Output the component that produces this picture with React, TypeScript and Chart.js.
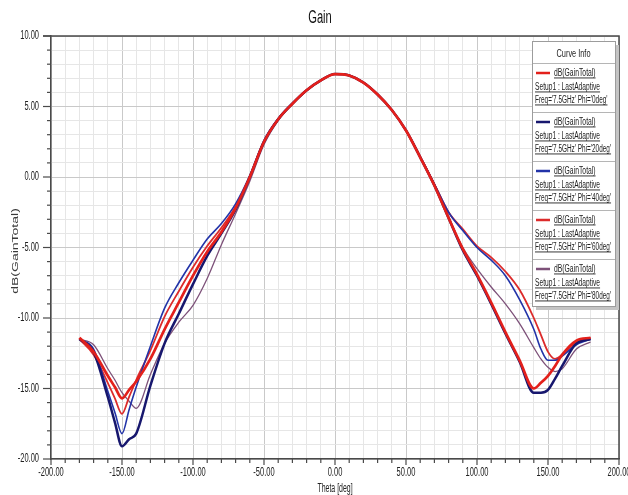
import React, { useEffect, useRef } from "react";
import { Chart, registerables } from "chart.js";

Chart.register(...registerables);

// ---------- data ----------
const THETA = [
  -180, -170, -160, -155, -150, -145, -140, -130, -120, -110, -100, -90, -80, -70,
  -60, -50, -40, -30, -20, -10, 0, 10, 20, 30, 40, 50, 60, 70,
  80, 90, 100, 110, 120, 130, 140, 145, 150, 155, 160, 170, 180,
];

const GAIN_PHI_0 = [
  -11.4, -12.4, -14.1, -14.9, -15.7, -15.1, -14.5, -12.9, -10.8, -8.9, -7.0, -5.3, -3.9, -2.2,
  0.0, 2.5, 4.1, 5.2, 6.15, 6.85, 7.3, 7.2, 6.7, 5.85, 4.75, 3.3, 1.4, -0.6,
  -2.9, -5.1, -6.9, -8.9, -11.0, -13.0, -15.0, -14.6, -14.1, -13.4, -12.6, -11.6, -11.4,
];

const GAIN_PHI_20 = [
  -11.5, -12.4, -15.6, -17.4, -19.1, -18.6, -18.2, -14.8, -11.8, -9.7, -7.6, -5.6, -4.0, -2.3,
  0.0, 2.5, 4.1, 5.2, 6.15, 6.85, 7.3, 7.2, 6.7, 5.85, 4.75, 3.3, 1.4, -0.6,
  -2.9, -5.2, -7.0, -9.0, -11.1, -13.1, -15.3, -15.3, -15.1, -14.3, -13.4, -11.8, -11.5,
];

const GAIN_PHI_40 = [
  -11.5, -12.2, -15.2, -16.7, -18.2, -16.5, -14.9, -12.0, -9.3, -7.5, -5.9, -4.4, -3.3, -1.9,
  0.1, 2.6, 4.15, 5.25, 6.15, 6.85, 7.3, 7.2, 6.7, 5.85, 4.75, 3.3, 1.45, -0.5,
  -2.5, -3.8, -5.0, -5.9, -7.0, -8.7, -10.8, -12.2, -13.0, -13.0, -12.7, -11.9, -11.5,
];

const GAIN_PHI_60 = [
  -11.5, -12.6, -14.6, -15.7, -16.8, -15.6, -14.4, -12.3, -9.9, -8.1, -6.4, -4.9, -3.6, -2.1,
  0.0, 2.5, 4.1, 5.2, 6.15, 6.85, 7.3, 7.2, 6.7, 5.85, 4.75, 3.3, 1.45, -0.5,
  -2.5, -3.7, -4.9, -5.7, -6.7, -8.0, -10.0, -11.2, -12.4, -12.9, -12.6, -11.7, -11.4,
];

const GAIN_PHI_80 = [
  -11.5, -11.9, -13.6, -14.4, -15.3, -15.9, -16.4, -14.0, -11.8, -10.3, -9.1, -7.2, -4.8, -2.6,
  -0.3, 2.3, 4.0, 5.15, 6.1, 6.85, 7.3, 7.2, 6.7, 5.85, 4.75, 3.3, 1.4, -0.6,
  -2.9, -5.0, -6.5, -7.8, -9.0, -10.4, -12.1, -12.9, -13.5, -13.8, -13.6, -12.2, -11.7,
];

const PHI_LABELS = ["0deg", "20deg", "40deg", "60deg", "80deg"];
const SERIES_VALUES = [GAIN_PHI_0, GAIN_PHI_20, GAIN_PHI_40, GAIN_PHI_60, GAIN_PHI_80];

const CHART_TITLE = "Gain";
const X_TITLE = "Theta [deg]";
const Y_TITLE = "dB(GainTotal)";
const LEGEND_TITLE = "Curve Info";
const TRACE_NAME = "dB(GainTotal)";
const SETUP_NAME = "Setup1 : LastAdaptive";
const FREQ_TEXT = "7.5GHz";

const X_MIN = -200;
const X_MAX = 200;
const X_STEP = 10;
const X_MAJOR = 50;
const Y_MIN = -20;
const Y_MAX = 10;
const Y_STEP = 1;
const Y_MAJOR = 5;

// ---------- styles ----------
const STYLES = [
  { color: "#e3201b", width: 2.7 },
  { color: "#17176e", width: 2.5 },
  { color: "#2233a8", width: 1.6 },
  { color: "#dc2b2b", width: 1.8 },
  { color: "#7d5179", width: 1.3 },
];

const FONT = '"Liberation Sans", Arial, "DejaVu Sans", sans-serif';
const GRID_MAJOR = "#c9c9c9";
const GRID_MINOR = "#e6e6e6";
const FRAME = "#4a4a4a";
const TEXT = "#222222";

function drawText(
  ctx: CanvasRenderingContext2D,
  text: string,
  x: number,
  y: number,
  size: number,
  sx: number,
  align: CanvasTextAlign,
  color: string,
  underline = false
) {
  ctx.save();
  ctx.translate(x, y);
  ctx.scale(sx, 1);
  ctx.font = `${size}px ${FONT}`;
  ctx.textAlign = align;
  ctx.textBaseline = "middle";
  ctx.fillStyle = color;
  ctx.fillText(text, 0, 0);
  if (underline) {
    const w = ctx.measureText(text).width;
    const x0 = align === "left" ? 0 : align === "right" ? -w : -w / 2;
    ctx.fillRect(x0, size * 0.45, w, 0.9);
  }
  ctx.restore();
}

const decorPlugin = {
  id: "hfssDecor",
  afterDraw(chart: any) {
    const ctx: CanvasRenderingContext2D = chart.ctx;
    const area = chart.chartArea;
    const xs = chart.scales.x;
    const ys = chart.scales.y;

    // frame (top & right)
    ctx.save();
    ctx.strokeStyle = FRAME;
    ctx.lineWidth = 1.5;
    ctx.beginPath();
    ctx.moveTo(area.left - 8, area.top);
    ctx.lineTo(area.right, area.top);
    ctx.lineTo(area.right, area.bottom);
    ctx.stroke();

    // tick marks
    ctx.lineWidth = 1.2;
    xs.ticks.forEach((t: any) => {
      const px = xs.getPixelForValue(t.value);
      const major = Math.abs(t.value % X_MAJOR) < 1e-6;
      ctx.beginPath();
      ctx.moveTo(px, area.bottom);
      ctx.lineTo(px, area.bottom + (major ? 6 : 4));
      ctx.stroke();
    });
    ys.ticks.forEach((t: any) => {
      const py = ys.getPixelForValue(t.value);
      const major = Math.abs(t.value % Y_MAJOR) < 1e-6;
      ctx.beginPath();
      ctx.moveTo(area.left, py);
      ctx.lineTo(area.left - (major ? 8 : 4), py);
      ctx.stroke();
    });
    ctx.restore();

    // tick labels
    xs.ticks.forEach((t: any) => {
      if (Math.abs(t.value % X_MAJOR) > 1e-6) return;
      drawText(ctx, t.value.toFixed(2), xs.getPixelForValue(t.value), area.bottom + 14, 12.5, 0.6, "center", TEXT);
    });
    ys.ticks.forEach((t: any) => {
      if (Math.abs(t.value % Y_MAJOR) > 1e-6) return;
      drawText(ctx, t.value.toFixed(2), area.left - 12, ys.getPixelForValue(t.value), 12.5, 0.6, "right", TEXT);
    });

    // titles
    drawText(ctx, CHART_TITLE, 320, 18, 18, 0.62, "center", "#111111");
    drawText(ctx, X_TITLE, (area.left + area.right) / 2, area.bottom + 30, 12, 0.58, "center", TEXT);
    ctx.save();
    ctx.translate(15.5, 251);
    ctx.scale(0.6, 1);
    ctx.rotate(-Math.PI / 2);
    ctx.font = `14px ${FONT}`;
    ctx.textAlign = "center";
    ctx.textBaseline = "middle";
    ctx.fillStyle = "#3a3a3a";
    ctx.fillText(Y_TITLE, 0, 0);
    ctx.restore();

    // legend box
    const bx = 532;
    const by = 41;
    const bw = 83;
    const headH = 22;
    const entryH = 49;
    const bh = headH + entryH * PHI_LABELS.length - 2;
    ctx.save();
    ctx.fillStyle = "#c4c4c4";
    ctx.fillRect(bx + 4, by + 4, bw, bh);
    ctx.fillStyle = "#ffffff";
    ctx.fillRect(bx, by, bw, bh);
    ctx.strokeStyle = "#9c9c9c";
    ctx.lineWidth = 1;
    ctx.strokeRect(bx + 0.5, by + 0.5, bw, bh);
    ctx.restore();
    drawText(ctx, LEGEND_TITLE, bx + bw / 2, by + 13, 11, 0.67, "center", TEXT);
    PHI_LABELS.forEach((phi, i) => {
      const top = by + headH + i * entryH;
      ctx.save();
      ctx.strokeStyle = "#b5b5b5";
      ctx.lineWidth = 1;
      ctx.beginPath();
      ctx.moveTo(bx + 1, top + 0.5);
      ctx.lineTo(bx + bw, top + 0.5);
      ctx.stroke();
      ctx.strokeStyle = STYLES[i].color;
      ctx.lineWidth = 2.5;
      ctx.beginPath();
      ctx.moveTo(bx + 4, top + 10);
      ctx.lineTo(bx + 18, top + 10);
      ctx.stroke();
      ctx.restore();
      drawText(ctx, TRACE_NAME, bx + 22, top + 10, 10, 0.68, "left", TEXT, true);
      drawText(ctx, SETUP_NAME, bx + 3, top + 24, 10, 0.665, "left", TEXT, true);
      drawText(ctx, `Freq='${FREQ_TEXT}' Phi='${phi}'`, bx + 3, top + 37, 10, 0.64, "left", TEXT, true);
    });
  },
};

export default function App() {
  const canvasRef = useRef<HTMLCanvasElement | null>(null);

  useEffect(() => {
    const canvas = canvasRef.current;
    if (!canvas) return;
    const datasets = SERIES_VALUES.map((vals, i) => ({
      label: `${TRACE_NAME} Phi='${PHI_LABELS[i]}'`,
      data: THETA.map((t, k) => ({ x: t, y: vals[k] })),
      borderColor: STYLES[i].color,
      borderWidth: STYLES[i].width,
      backgroundColor: STYLES[i].color,
      pointRadius: 0,
      fill: false,
      cubicInterpolationMode: "monotone" as const,
      showLine: true,
    }));

    const gridColor = (major: number) => (c: any) =>
      c.tick && Math.abs(c.tick.value % major) < 1e-6 ? GRID_MAJOR : GRID_MINOR;

    const chart = new Chart(canvas, {
      type: "line",
      data: { datasets },
      options: {
        animation: false,
        responsive: false,
        devicePixelRatio: 1,
        layout: { padding: { top: 36, right: 9, left: 0, bottom: 0 } },
        plugins: {
          legend: { display: false },
          title: { display: false },
          tooltip: { enabled: false },
        },
        elements: { point: { radius: 0 } },
        scales: {
          x: {
            type: "linear",
            min: X_MIN,
            max: X_MAX,
            ticks: { stepSize: X_STEP, display: false, autoSkip: false },
            grid: { color: gridColor(X_MAJOR), drawTicks: false, lineWidth: 1 },
            border: { display: true, color: FRAME, width: 1.5 },
            afterFit: (s: any) => {
              s.height = 36;
            },
          },
          y: {
            type: "linear",
            min: Y_MIN,
            max: Y_MAX,
            ticks: { stepSize: Y_STEP, display: false, autoSkip: false },
            grid: { color: gridColor(Y_MAJOR), drawTicks: false, lineWidth: 1 },
            border: { display: true, color: FRAME, width: 1.5 },
            afterFit: (s: any) => {
              s.width = 51;
            },
          },
        },
      } as any,
      plugins: [decorPlugin],
    });
    return () => chart.destroy();
  }, []);

  return (
    <div
      style={{
        position: "fixed",
        left: 0,
        top: 0,
        width: 628,
        height: 495,
        background: "#ffffff",
        overflow: "hidden",
      }}
    >
      <canvas ref={canvasRef} width={628} height={495} style={{ display: "block", width: 628, height: 495 }} />
    </div>
  );
}
